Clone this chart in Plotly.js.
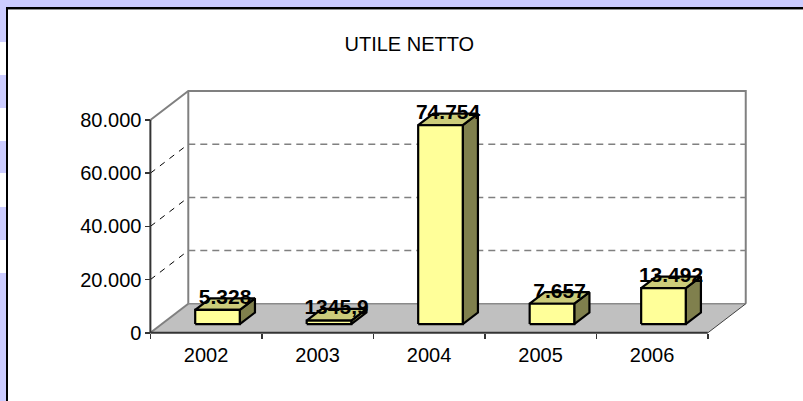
<!DOCTYPE html>
<html>
<head>
<meta charset="utf-8">
<script src="https://cdn.plot.ly/plotly-3.0.1.min.js"></script>
<style>
  html, body { margin: 0; padding: 0; width: 803px; height: 401px; overflow: hidden; background: #ccccff; }
  .strip { position: absolute; left: 0; top: 0; width: 6px; height: 401px;
    background: linear-gradient(to bottom, #ccccff 0px, #ccccff 42px, #ffffff 42px, #ffffff 75px,
      #ccccff 75px, #ccccff 108px, #ffffff 108px, #ffffff 141px, #ccccff 141px, #ccccff 173px,
      #ffffff 173px, #ffffff 207px, #ccccff 207px, #ccccff 240px, #ffffff 240px, #ffffff 273px,
      #ccccff 273px, #ccccff 401px); }
  .frame { position: absolute; left: 6px; top: 7px; right: 0; bottom: 0; background: #ffffff;
    border-left: 2px solid #000; border-top: 2px solid #000; box-shadow: inset 0 1px 0 #909090; }
  #chart { position: absolute; left: 0; top: 0; width: 803px; height: 401px; }
</style>
</head>
<body>
<div class="strip"></div>
<div class="frame"></div>
<div id="chart"></div>
<script>
// ---- data ----
const chartTitle = 'UTILE NETTO';
const years = ['2002', '2003', '2004', '2005', '2006'];
const values = [5328, 1345.9, 74754, 7657, 13492];
const valueLabels = ['5.328', '1345,9', '74.754', '7.657', '13.492'];
const tickValues = [0, 20000, 40000, 60000, 80000];
const tickLabels = ['0', '20.000', '40.000', '60.000', '80.000'];

// ---- 3D geometry (data units) ----
const X0 = -0.5, X1 = years.length - 0.5;
const YTOP = tickValues[tickValues.length - 1];
const DX = 0.34, DY = 10900;        // floor depth
const FRONT = 0.3, DEPTH = 0.4;     // bar placement within depth
const HW = 0.2;                     // bar half width
const BDX = DEPTH * DX, BDY = DEPTH * DY;
const LABEL_UP = 4300;

const xMin = -0.62, xMax = 4.95, yMin = -1200, yMax = 92400;
const PXX = 111.57, UPY = 375.6;   // px per x unit, units per px
const mL = 150 - (X0 - xMin) * PXX;
const plotW = (xMax - xMin) * PXX;
const mR = 803 - mL - plotW;
const plotH = (yMax - yMin) / UPY;
const mB = 401 - (333 + (0 - yMin) / UPY);
const mT = 401 - mB - plotH;

const FONT = 'Liberation Sans, Arial, sans-serif';
const traces = [];

function line(xs, ys, color, width, dash) {
  return { type: 'scatter', mode: 'lines', x: xs, y: ys, hoverinfo: 'skip',
           line: { color: color, width: width, dash: dash || 'solid' } };
}
function poly(xs, ys, fill) {
  return { type: 'scatter', mode: 'lines', fill: 'toself', fillcolor: fill, x: xs, y: ys,
           line: { color: '#000', width: 2.2 }, hoverinfo: 'skip' };
}

// floor
traces.push({ type: 'scatter', mode: 'lines', fill: 'toself', fillcolor: '#c0c0c0',
  x: [X0, X1, X1 + DX, X0 + DX, X0], y: [0, 0, DY, DY, 0],
  line: { width: 0, color: 'rgba(0,0,0,0)' }, hoverinfo: 'skip' });

// back wall dashed gridlines + left wall dashed lines
const gx = [], gy = [], lx = [], ly = [];
tickValues.forEach(v => {
  if (v > 0 && v < YTOP) {
    gx.push(X0 + DX, X1 + DX, null); gy.push(v + DY, v + DY, null);
    lx.push(X0, X0 + DX, null); ly.push(v, v + DY, null);
  }
});
traces.push(line(gx, gy, '#808080', 1.5, '7px,5px'));
traces.push(line(lx, ly, '#000000', 1, '6px,6px'));

// walls outline
traces.push(line([X0, X0 + DX, X1 + DX, X1 + DX], [YTOP, YTOP + DY, YTOP + DY, DY], '#808080', 2));
traces.push(line([X0 + DX, X0 + DX], [YTOP + DY, DY], '#808080', 2));
traces.push(line([X0 + DX, X1 + DX], [DY, DY], '#8a8a8a', 1.5));
traces.push(line([X0, X0 + DX], [0, DY], '#808080', 2));
traces.push(line([X1, X1 + DX], [0, DY], '#404040', 1));
traces.push(line([X0, X1], [0, 0], '#333333', 2));
traces.push(line([X0, X0], [0, YTOP], '#333333', 2));

// bars: sides, tops, fronts
const sx = [], sy = [], tx = [], ty = [], fx = [], fy = [], labY = [], labX = [];
values.forEach((v, i) => {
  const xl = i + FRONT * DX - HW, xr = i + FRONT * DX + HW;
  const y0 = FRONT * DY, y1 = FRONT * DY + v;
  sx.push(xr, xr + BDX, xr + BDX, xr, xr, null);
  sy.push(y0, y0 + BDY, y1 + BDY, y1, y0, null);
  tx.push(xl, xr, xr + BDX, xl + BDX, xl, null);
  ty.push(y1, y1, y1 + BDY, y1 + BDY, y1, null);
  fx.push(xl, xr, xr, xl, xl, null);
  fy.push(y0, y0, y1, y1, y0, null);
  labX.push(i + FRONT * DX + BDX / 2);
  labY.push(y1 + LABEL_UP);
});
traces.push(poly(sx, sy, '#80804d'));
traces.push(poly(tx, ty, '#cccc7a'));
traces.push(poly(fx, fy, '#ffff99'));

// value labels
traces.push({ type: 'scatter', mode: 'text', x: labX, y: labY, text: valueLabels,
  textposition: 'middle center', cliponaxis: false,
  textfont: { family: FONT, size: 21, color: '#000', weight: 'bold' }, hoverinfo: 'skip' });

// year labels on overlay axis
traces.push({ type: 'scatter', mode: 'markers', x: years.map((_, i) => i), y: years.map(() => 0),
  xaxis: 'x2', marker: { opacity: 0 }, hoverinfo: 'skip' });

const xPos = (0 - yMin) / (yMax - yMin);
const yPos = (X0 - xMin) / (xMax - xMin);
const boundaries = [];
for (let i = 0; i <= years.length; i++) boundaries.push(i - 0.5);

const layout = {
  width: 803, height: 401,
  margin: { l: mL, r: mR, t: mT, b: mB, pad: 0 },
  paper_bgcolor: 'rgba(0,0,0,0)', plot_bgcolor: 'rgba(0,0,0,0)',
  showlegend: false, hovermode: false,
  font: { family: FONT, color: '#000', size: 20 },
  title: { text: chartTitle, font: { family: FONT, size: 20, color: '#000' },
    xref: 'container', x: 409.3 / 803, xanchor: 'center',
    yref: 'container', y: 1 - 43.5 / 401, yanchor: 'middle' },
  xaxis: { range: [xMin, xMax], anchor: 'free', position: xPos,
    showgrid: false, zeroline: false, showline: false,
    tickmode: 'array', tickvals: boundaries, ticktext: boundaries.map(() => ''),
    ticks: 'outside', ticklen: 5, tickwidth: 1.5, tickcolor: '#333' },
  xaxis2: { range: [xMin, xMax], overlaying: 'x', anchor: 'free', position: xPos, side: 'bottom',
    showgrid: false, zeroline: false, showline: false,
    tickmode: 'array', tickvals: years.map((_, i) => i), ticktext: years, ticks: '',
    ticklabelstandoff: 8,
    tickfont: { family: FONT, size: 20, color: '#000' } },
  yaxis: { range: [yMin, yMax], anchor: 'free', position: yPos,
    showgrid: false, zeroline: false, showline: false,
    tickmode: 'array', tickvals: tickValues, ticktext: tickLabels,
    ticks: 'outside', ticklen: 5, tickwidth: 1.5, tickcolor: '#333',
    tickfont: { family: FONT, size: 20, color: '#000' } }
};

Plotly.newPlot('chart', traces, layout, { displayModeBar: false, staticPlot: true });
</script>
</body>
</html>
